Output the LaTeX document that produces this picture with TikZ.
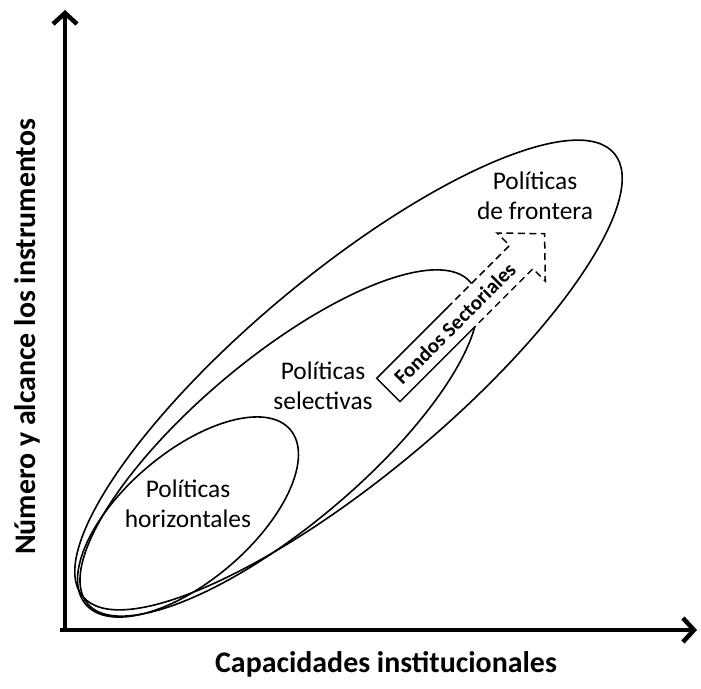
\documentclass[tikz,border=0pt]{standalone}
\usepackage{fontspec}
\setmainfont{Carlito}
\usetikzlibrary{arrows.meta}

\begin{document}
\begin{tikzpicture}[x=1bp, y=1bp,
    axisline/.style={line width=4.5bp, -{Straight Barb[length=11bp,width=24bp]}},
    region/.style={line width=1.6bp},
    regiontext/.style={align=center, font=\fontsize{25.5}{30}\selectfont},
    axislabel/.style={font=\fontsize{30}{36}\selectfont\bfseries}]

  \useasboundingbox (0,0) rectangle (701,689);

  % axes
  \coordinate (origin) at (65,59);
  \coordinate (xend) at (697,59);
  \coordinate (yend) at (65,679);
  \draw[axisline] ([xshift=-5bp]origin) -- (xend);
  \draw[axisline] ([yshift=-2bp]origin) -- (yend);

  % regions
  \coordinate (cfront) at (348.5,314);
  \coordinate (cselec) at (279,246);
  \coordinate (choriz) at (188,172);
  \draw[region, rotate around={39.8:(cfront)}] (cfront) ellipse [x radius=346bp, y radius=101.5bp];
  \draw[region, rotate around={40:(cselec)}] (cselec) ellipse [x radius=250bp, y radius=84bp];
  \draw[region, rotate around={40.5:(choriz)}] (choriz) ellipse [x radius=134.5bp, y radius=64.2bp];

  % arrow of the sector funds
  \begin{scope}[shift={(388.3,299)}, rotate=45, line width=1.5bp]
    \fill[white] (0,-16.5) -- (188,-16.5) -- (188,-34) -- (221,0) -- (188,34) -- (188,16.5) -- (0,16.5) -- cycle;
    \draw[dash pattern=on 7bp off 4.5bp] (100,-16.5) -- (188,-16.5) -- (188,-34) -- (221,0) -- (188,34) -- (188,16.5) -- (100,16.5);
    \draw (100,16.5) -- (0,16.5) -- (0,-16.5) -- (100,-16.5);
  \end{scope}
  \node[rotate=45, font=\fontsize{21}{25}\selectfont\bfseries] (fondos) at (454.8,365.5) {Fondos Sectoriales};

  \node[regiontext] (horiz) at (188,185.5) {Políticas\\horizontales};
  \node[regiontext] (selec) at (323,303.5) {Políticas\\selectivas};
  \node[regiontext] (front) at (535,493.5) {Políticas\\de frontera};

  \node[axislabel, anchor=base] (xlabel) at (386,16) {Capacidades institucionales};
  \node[axislabel, rotate=90, anchor=base] (ylabel) at (35,352) {Número y alcance los instrumentos};

\end{tikzpicture}
\end{document}
